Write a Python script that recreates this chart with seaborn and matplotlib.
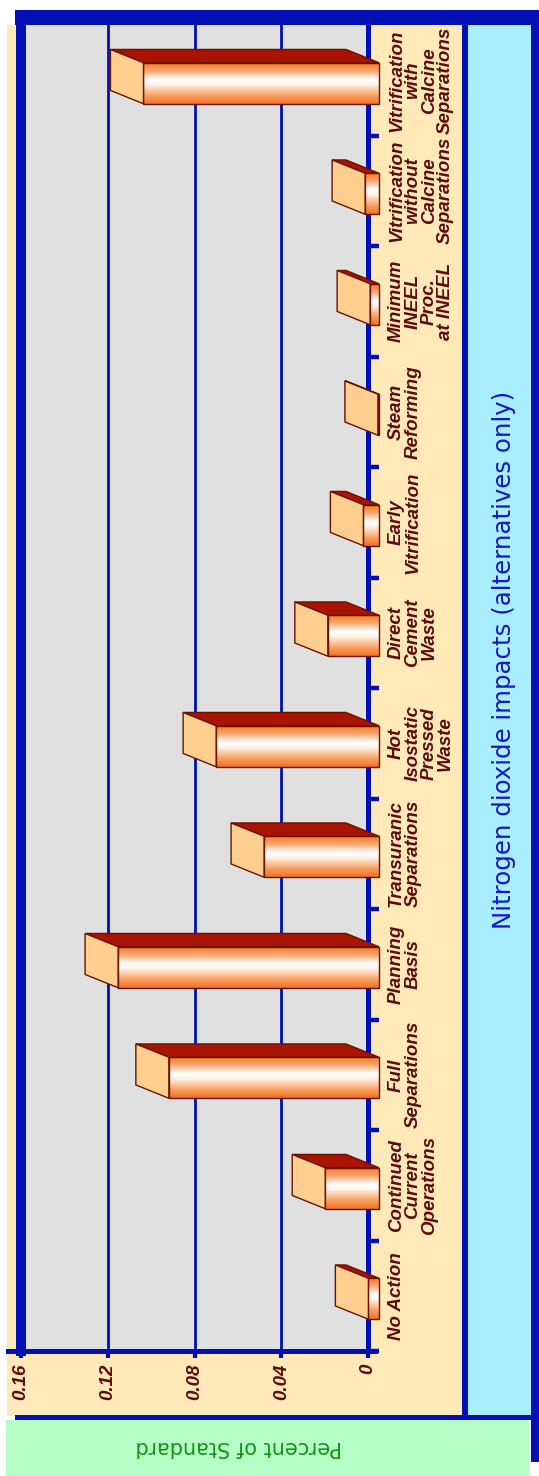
import numpy as np
import pandas as pd
import matplotlib
matplotlib.use("Agg")
import matplotlib.pyplot as plt
from matplotlib.patches import Rectangle, Polygon
from matplotlib.colors import LinearSegmentedColormap
import seaborn as sns

# ---------------- data ----------------
categories = [
    "No Action",
    "Continued\nCurrent\nOperations",
    "Full\nSeparations",
    "Planning\nBasis",
    "Transuranic\nSeparations",
    "Hot\nIsostatic\nPressed\nWaste",
    "Direct\nCement\nWaste",
    "Early\nVitrification",
    "Steam\nReforming",
    "Minimum\nINEEL\nProc.\nat INEEL",
    "Vitrification\nwithout\nCalcine\nSeparations",
    "Vitrification\nwith\nCalcine\nSeparations",
]
values = [0.0049, 0.0248, 0.0969, 0.1203, 0.0530, 0.0751,
          0.0236, 0.0072, 0.0005, 0.0041, 0.0064, 0.1086]
value_ticks = [0, 0.04, 0.08, 0.12, 0.16]
value_tick_labels = ["0", "0.04", "0.08", "0.12", "0.16"]
title = "Nitrogen dioxide impacts (alternatives only)"
value_axis_title = "Percent of Standard"

# ---------------- style ----------------
plt.rcParams['font.family'] = ['Liberation Sans', 'DejaVu Sans']
BLUE = '#0010b4'
GREY = '#e0e0e0'
BEIGE = '#ffe9b9'
CYAN = '#a8eefc'
GREEN_BG = '#b6fcc6'
LABEL = '#5c0c0c'
EDGE = '#6a1200'
TOP = '#a81400'
SIDE = '#ffcf8f'

W, H = 539, 1476
fig = plt.figure(figsize=(W / 100, H / 100), dpi=100)
fig.patch.set_facecolor('white')

def fx(px):
    return px / W

def fy(py):
    return 1 - py / H

# background panels (pixel coordinates)
bg = fig.add_axes([0, 0, 1, 1])
bg.set_xlim(0, W)
bg.set_ylim(H, 0)
bg.axis('off')
def rect(x0, y0, x1, y1, c):
    bg.add_patch(Rectangle((x0, y0), x1 - x0, y1 - y0, facecolor=c, edgecolor='none'))
rect(7, 25, 462, 1416, BEIGE)
rect(468, 25, 531, 1415, CYAN)
rect(15, 10, 539, 25, BLUE)
rect(531, 10, 539, 1462, BLUE)
rect(462, 25, 468, 1419, BLUE)
rect(15, 1415, 539, 1420, BLUE)
rect(6, 1420, 529, 1476, GREEN_BG)
rect(6, 1348.5, 378, 1353.5, BLUE)

# main plot axes
left_px, right_px, top_px, bot_px = 21, 368, 25, 1351
ax = fig.add_axes([fx(left_px), fy(bot_px), (right_px - left_px) / W, (bot_px - top_px) / H])
ax.set_facecolor(GREY)

df = pd.DataFrame({"category": categories, "value": values})
bar_width = 0.371
sns.barplot(data=df, x="value", y="category", order=categories, orient="h",
            width=bar_width, color="white", edgecolor=EDGE, linewidth=1.0, ax=ax)

ax.set_xlim(0.16, 0)
ax.set_ylim(-0.5, len(categories) - 0.5)

px_per_unit = (right_px - left_px) / 0.16
cat_px = (bot_px - top_px) / len(categories)
off = 11 / px_per_unit         # front face shift to the right of zero line
dx = 33 / px_per_unit          # depth offset (value direction, leftwards)
dy = 13.3 / cat_px             # depth offset (upwards)
yshift = -3 / cat_px

cmap = LinearSegmentedColormap.from_list('barface', [
    (0.0, '#f47a2a'), (0.18, '#f9a468'), (0.40, '#ffffff'),
    (0.52, '#fff4ea'), (0.78, '#f9a466'), (1.0, '#f07020')])
grad = np.linspace(0, 1, 256).reshape(-1, 1)

for p in list(ax.patches):
    w = p.get_width()
    y0 = p.get_y() + yshift
    h = p.get_height()
    p.set_x(-off)
    p.set_y(y0)
    p.set_facecolor('none')
    p.set_zorder(4)
    p.set_clip_on(False)
    xr = -off
    xl = w - off
    yb, yt = y0, y0 + h
    im = ax.imshow(grad, cmap=cmap, extent=(xl, xr, yb, yt), aspect='auto',
                   zorder=3, interpolation='bilinear')
    im.set_clip_on(False)
    top = Polygon([(xr, yt), (xl, yt), (xl + dx, yt + dy), (xr + dx, yt + dy)],
                  closed=True, facecolor=TOP, edgecolor=EDGE, linewidth=1.0, zorder=4)
    top.set_clip_on(False)
    ax.add_patch(top)
    side = Polygon([(xl, yb), (xl, yt), (xl + dx, yt + dy), (xl + dx, yb + dy)],
                   closed=True, facecolor=SIDE, edgecolor=EDGE, linewidth=1.0, zorder=4)
    side.set_clip_on(False)
    ax.add_patch(side)

ax.set_xlim(0.16, 0)
ax.set_ylim(-0.5, len(categories) - 0.5)
ax.set_aspect('auto')

# grid and spines
ax.set_axisbelow(True)
ax.grid(False)
ax.xaxis.grid(True, color=BLUE, linewidth=2.0)
ax.spines['top'].set_visible(False)
ax.spines['left'].set_color(BLUE)
ax.spines['left'].set_linewidth(7.2)
ax.spines['right'].set_color(BLUE)
ax.spines['right'].set_linewidth(3.6)
ax.spines['bottom'].set_color(BLUE)
ax.spines['bottom'].set_linewidth(3.6)

tick_font = dict(fontsize=13.5, fontweight='bold', fontstyle='italic', color=LABEL,
                 family=['Liberation Sans', 'DejaVu Sans'])

ax.set_xticks(value_ticks)
ax.set_xticklabels(value_tick_labels, rotation=90, **tick_font)
ax.tick_params(axis='x', direction='out', length=5, width=3, color=BLUE, pad=4)

ax.yaxis.set_ticks_position('right')
ax.set_yticks(range(len(categories)))
ax.set_yticklabels(categories, rotation=90, **tick_font)
ax.tick_params(axis='y', which='major', length=0, pad=14.4)
ax.set_yticks(np.arange(-0.5, len(categories) - 1, 1), minor=True)
ax.tick_params(axis='y', which='minor', direction='out', length=8, width=3.2, color=BLUE)
for t in ax.get_yticklabels():
    t.set_ha('left')
    t.set_va('center')
    t.set_multialignment('center')
    t.set_linespacing(0.95)
ax.set_xlabel('')
ax.set_ylabel('')

# titles
fig.text(fx(504), fy(660), title, rotation=90, ha='center', va='center',
         fontsize=17.6, color='#1818c4', family=['DejaVu Sans'])
fig.text(fx(239), fy(1447), value_axis_title, rotation=180, ha='center', va='center',
         fontsize=15, color='#129612', family=['DejaVu Sans'])

fig.savefig('out.png', dpi=100)
